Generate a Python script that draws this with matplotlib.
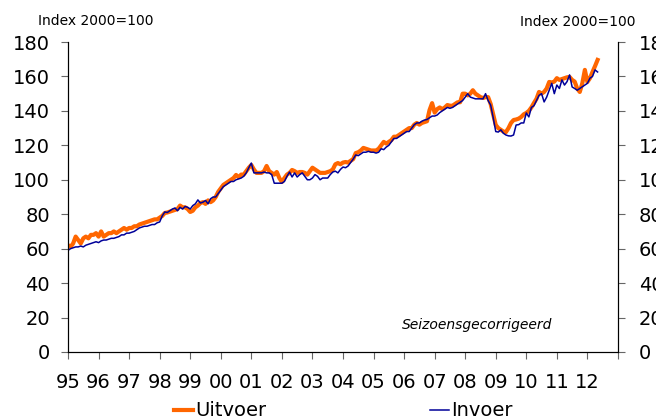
import numpy as np
import matplotlib
matplotlib.use('Agg')
import matplotlib.pyplot as plt

# monthly index 2000=100, jan 1995 - may 2012
uitvoer = [
    62, 61, 63, 67, 65, 63, 66, 67, 66, 68, 68, 69,               # 1995
    67, 70, 67, 68, 69, 69, 70, 69, 70, 71, 72, 71,               # 1996
    72, 72, 73, 73, 74, 74.5, 75, 75.5, 76, 76.5, 77, 77,         # 1997
    78, 79, 80.7, 81, 81.5, 82, 82.5, 83, 85, 84, 84, 83,         # 1998
    81.3, 82, 84, 85, 86.5, 87, 86, 88, 87, 88, 90, 93,           # 1999
    95, 97, 98, 99, 100, 101, 102.8, 101.5, 103, 103, 105, 107,   # 2000
    108.6, 106, 104, 104, 104, 105, 108, 105, 104, 103, 104.5, 101,  # 2001
    98.7, 101, 103, 104, 105.7, 105, 104, 104.5, 104.5, 104, 103, 105,  # 2002
    107, 106, 105, 104, 104, 104, 104.5, 105, 106, 109, 109.7, 109,  # 2003
    110, 110.3, 110, 111, 112, 115.5, 116, 117, 118.5, 118, 117.5, 117,  # 2004
    117, 117, 118, 120, 122, 121, 122, 123, 125, 125, 126, 127,   # 2005
    128, 129, 130, 130, 132, 133, 132, 133, 133.5, 134, 140.5, 144.5,  # 2006
    139, 141, 142, 141, 142, 143.4, 143, 143, 144, 145, 145, 150,  # 2007
    150, 149, 150, 152, 150, 149, 148, 147.5, 148, 148, 144, 138,  # 2008
    131.8, 130, 129, 128, 127.7, 130, 133, 134.7, 135, 135.5, 136.5, 138,  # 2009
    138.8, 140, 142, 144.6, 147, 151, 150, 151, 153, 156.8, 156.5, 157,  # 2010
    159, 158, 158.5, 159, 159.5, 159.7, 158, 157, 153, 151, 156, 163.8,  # 2011
    156.8, 159, 162.6, 166, 169.6,                                 # 2012
]
invoer = [
    59, 60, 60.5, 61, 61, 61.5, 61, 62, 62.5, 63, 63.5, 64,       # 1995
    63.5, 64.5, 65, 65, 65.5, 66, 66, 66.5, 67, 68, 68, 69,       # 1996
    69, 69.5, 70, 71, 72, 72.5, 73, 73, 73.5, 74, 74, 75,         # 1997
    75.5, 79, 81.3, 81, 82, 83, 83.6, 82, 84, 83, 84.5, 84,       # 1998
    83, 85, 86, 88.3, 86.5, 87, 88, 86, 89, 90, 90, 92,           # 1999
    94, 96, 97, 98, 99, 99, 100, 100.5, 101, 102, 104, 107,       # 2000
    109.7, 104, 104, 104, 104, 104.5, 104, 104, 103, 98, 98, 98,  # 2001
    98, 99, 102, 104.5, 101.6, 104, 101.6, 103, 104, 102, 100, 100,  # 2002
    101, 103, 102, 100, 101, 101, 101, 103, 104.5, 105, 104, 106,  # 2003
    107.4, 107, 108, 110, 112, 114.4, 114, 115, 116, 116, 116.5, 116,  # 2004
    116, 115.5, 116, 118, 117.5, 119, 120, 122, 124, 124, 125, 126,  # 2005
    127, 128, 128, 130, 132, 133, 133, 134, 134.7, 135, 136, 137,  # 2006
    137, 137.6, 139, 140, 141, 142, 141.5, 142, 143, 144, 145, 146,  # 2007
    148, 150, 148, 147.5, 147, 147, 147, 147, 150, 146, 143.4, 136,  # 2008
    128, 127.7, 129, 127, 126, 125.5, 125.4, 126, 131.8, 132, 133, 133,  # 2009
    138.8, 136.5, 142, 143, 146, 149, 150, 145.2, 148, 152, 156, 150,  # 2010
    155, 153, 158, 155, 157, 160.9, 153.9, 153, 152, 153, 154, 155,  # 2011
    156, 159, 160, 163.8, 162.6,                                   # 2012
]
years = list(range(1995, 2014))
year_labels = ['95', '96', '97', '98', '99', '00', '01', '02', '03', '04',
               '05', '06', '07', '08', '09', '10', '11', '12', '']
yticks = [0, 20, 40, 60, 80, 100, 120, 140, 160, 180]

t = 1995 + np.arange(len(uitvoer)) / 12.0

fig = plt.figure(figsize=(6.56, 4.18), dpi=100)
ax = fig.add_axes([0.1037, 0.158, 0.8383, 0.7415])

ax.plot(t, uitvoer, color='#FF6600', lw=3.0, label='Uitvoer', zorder=2)
ax.plot(t, invoer, color='#000099', lw=1.1, label='Invoer', zorder=3)

ax.set_xlim(1995, 2013)
ax.set_ylim(0, 180)
ax.set_xticks(years)
ax.set_xticklabels(year_labels)
ax.set_yticks(yticks)
ax.spines['top'].set_visible(False)
ax.tick_params(axis='both', labelsize=14, length=5, color='#666666')
ax.tick_params(axis='y', pad=8)
ax.tick_params(axis='x', pad=10)

# right axis, same scale, labels run off the edge like in the original
ax2 = ax.twinx()
ax2.set_ylim(0, 180)
ax2.set_yticks(yticks)
ax2.spines['top'].set_visible(False)
ax2.tick_params(axis='y', labelsize=14, length=5, color='#666666', pad=10)

fig.text(0.058, 0.95, 'Index 2000=100', fontsize=10, va='center', ha='left')
fig.text(0.968, 0.947, 'Index 2000=100', fontsize=10, va='center', ha='right')
ax.text(0.744, 0.087, 'Seizoensgecorrigeerd', fontsize=10, style='italic',
        transform=ax.transAxes, ha='center', va='center')

fig.legend(handles=ax.get_lines(), loc='center', bbox_to_anchor=(0.523, 0.017),
           ncol=2, frameon=False, fontsize=14, handlelength=1.0,
           handletextpad=0.1, columnspacing=8.4, borderpad=0)

fig.savefig('out.png', dpi=100)
